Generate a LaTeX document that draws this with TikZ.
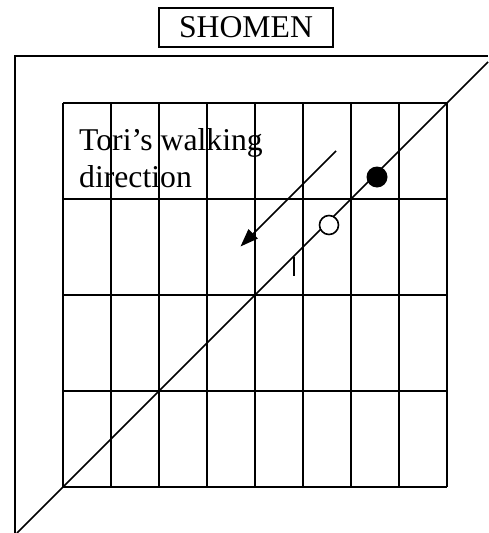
\documentclass[tikz,border=0pt]{standalone}
\usepackage{fontspec}
\setmainfont{Liberation Serif}
\usetikzlibrary{arrows.meta}
\begin{document}
\begin{tikzpicture}[x=1pt,y=-1pt,
  ln/.style={line width=1.6pt, black},
  lbl/.style={font=\fontsize{31.7}{36}\selectfont, inner sep=0pt},
  titlebox/.style={draw, line width=1.6pt, minimum width=174pt, minimum height=39pt, inner sep=0pt, font=\fontsize{31.7}{36}\selectfont},
  dotstyle/.style={circle, line width=1.6pt, inner sep=0pt}]
\useasboundingbox (0,0) rectangle (488,533);
% title
\node[titlebox] (shomen) at (246,27.5) {SHOMEN};
% outer frame
\coordinate (fbl) at (15,533);
\coordinate (ftl) at (15,56);
\coordinate (ftr) at (488,56);
\draw[ln] (fbl) -- (ftl) -- (ftr);
% grid
\foreach \x in {63,111,...,447} \draw[ln] (\x,103) -- (\x,487);
\foreach \y in {103,199,295,391,487} \draw[ln] (63,\y) -- (447,\y);
% diagonal
\coordinate (d1) at (17,533);
\coordinate (d2) at (488,62);
\draw[ln] (d1) -- (d2);
% walking direction arrow
\coordinate (as) at (336,151);
\coordinate (ae) at (240.5,246.5);
\draw[ln, -{Triangle[length=18pt,width=13pt]}] (as) -- (ae);
% tick
\coordinate (t1) at (294,257);
\coordinate (t2) at (294,276);
\draw[ln] (t1) -- (t2);
% circles
\node[dotstyle, fill=black, minimum size=21pt] (filled) at (377,177) {};
\node[dotstyle, draw, fill=white, minimum size=19pt] (open) at (329,225) {};
% text
\node[lbl, anchor=base west] (tori1) at (79,150) {Tori’s walking};
\node[lbl, anchor=base west] (tori2) at (79,187) {direction};
\end{tikzpicture}
\end{document}
